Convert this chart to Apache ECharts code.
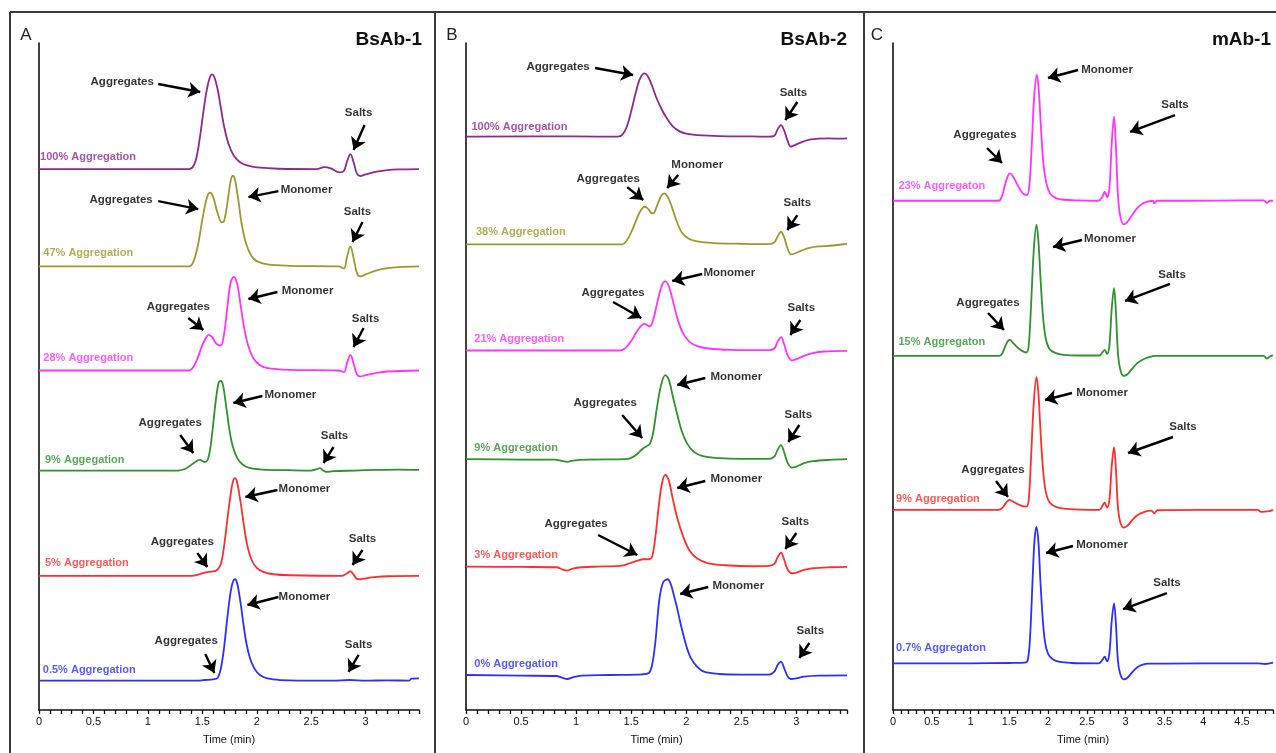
<!DOCTYPE html>
<html><head><meta charset="utf-8">
<script src="https://cdn.jsdelivr.net/npm/echarts/dist/echarts.min.js"></script>
<style>html,body{margin:0;padding:0;background:#fff}#c{width:1276px;height:753px}</style>
</head><body><div id="c"></div><script>
// ---------- Panel A : BsAb-1 ----------
const bsab1Names = ['100% Aggregation','47% Aggregation','28% Aggregation','9% Aggegation','5% Aggregation','0.5% Aggregation'];
const bsab1Offsets = [81.1, 66.5, 50.9, 35.9, 20.1, 4.4];
const bsab1_100 = [[0,0],[1.38,0],[1.42,0.5],[1.45,2.0],[1.48,5.0],[1.51,8.6],[1.54,11.8],[1.57,13.8],[1.59,14.2],[1.61,13.8],[1.64,12.0],[1.67,9.2],[1.70,6.4],[1.74,3.8],[1.79,2.0],[1.85,1.0],[1.92,0.5],[2.0,0.25],[2.2,0.05],[2.55,0],[2.62,0.3],[2.68,0.1],[2.76,-0.5],[2.80,-0.3],[2.83,1.2],[2.86,2.25],[2.89,1.0],[2.92,-0.7],[2.95,-1.05],[3.0,-0.8],[3.1,-0.4],[3.2,-0.15],[3.3,-0.05],[3.49,0]];
const bsab1_47 = [[0,0],[1.38,0],[1.42,0.8],[1.46,3.2],[1.50,7],[1.54,10.2],[1.57,11.05],[1.60,10.4],[1.64,8],[1.68,6.6],[1.70,6.8],[1.73,9.5],[1.76,12.8],[1.78,13.6],[1.80,13.0],[1.83,10],[1.86,6.5],[1.90,3.5],[1.95,1.6],[2.0,0.8],[2.1,0.3],[2.3,0.1],[2.75,0],[2.80,-0.3],[2.83,1.5],[2.86,3.0],[2.89,1.2],[2.92,-1.0],[2.95,-1.5],[3.0,-1.2],[3.1,-0.6],[3.2,-0.25],[3.3,-0.1],[3.49,0]];
const bsab1_28 = [[0,0],[1.38,0],[1.42,0.6],[1.46,2],[1.50,3.8],[1.54,5.1],[1.56,5.35],[1.59,5.0],[1.63,4.0],[1.67,3.75],[1.70,5.5],[1.73,9.5],[1.76,13.2],[1.79,14.05],[1.82,13.0],[1.85,10],[1.88,6.8],[1.92,3.8],[1.97,1.8],[2.03,0.8],[2.1,0.35],[2.3,0.1],[2.75,0],[2.80,-0.25],[2.83,1.2],[2.86,2.35],[2.89,1.0],[2.92,-0.6],[2.95,-0.9],[3.0,-0.7],[3.1,-0.35],[3.2,-0.15],[3.49,0]];
const bsab1_9 = [[0,0],[1.28,0],[1.35,0.3],[1.41,1.0],[1.46,1.55],[1.48,1.6],[1.51,1.35],[1.53,1.3],[1.56,2.2],[1.59,5.5],[1.62,10],[1.65,13.2],[1.67,13.45],[1.69,12.8],[1.72,9.5],[1.75,6],[1.78,3.6],[1.82,1.9],[1.87,0.9],[1.93,0.4],[2.05,0.15],[2.3,0.05],[2.5,0],[2.55,0.2],[2.58,0.36],[2.61,0],[2.64,-0.2],[2.70,-0.1],[2.9,0],[3.1,0.1],[3.3,0.15],[3.49,0.1]];
const bsab1_5 = [[0,0],[1.40,0],[1.47,0.25],[1.53,0.55],[1.58,0.65],[1.63,0.8],[1.67,1.8],[1.70,4.5],[1.73,8.5],[1.76,12.2],[1.78,14.1],[1.80,14.65],[1.82,14.0],[1.85,11.2],[1.88,7.8],[1.91,4.8],[1.95,2.5],[2.0,1.2],[2.06,0.6],[2.15,0.25],[2.3,0.1],[2.78,0],[2.82,0.3],[2.86,0.7],[2.89,0.2],[2.92,-0.45],[2.95,-0.5],[3.0,-0.35],[3.1,-0.15],[3.2,-0.05],[3.49,0]];
const bsab1_05 = [[0,0],[1.45,0],[1.52,0.1],[1.6,0.2],[1.64,0.4],[1.67,1.8],[1.70,5],[1.73,9.5],[1.76,13.3],[1.78,14.8],[1.80,15.2],[1.82,14.6],[1.85,11.8],[1.88,8.2],[1.91,5.2],[1.95,2.8],[2.0,1.3],[2.06,0.55],[2.15,0.2],[2.3,0.05],[2.7,0],[2.85,0.1],[3.0,0],[3.2,0.05],[3.4,0],[3.42,0.3],[3.49,0.35]];
const bsab1LabelPos = [[0.01,82.9],[0.04,68.47],[0.04,52.73],[0.055,37.48],[0.055,22.04],[0.035,6.0]];
const bsab1Notes = [['Aggregates',0.764,94.15],['Salts',2.935,89.5],['Aggregates',0.754,76.46],['Monomer',2.457,77.96],['Salts',2.925,74.66],['Aggregates',1.279,60.42],['Monomer',2.466,62.82],['Salts',2.999,58.62],['Aggregates',1.205,43.03],['Monomer',2.309,47.23],['Salts',2.714,41.08],['Aggregates',1.316,25.19],['Monomer',2.438,33.13],['Salts',2.971,25.64],['Aggregates',1.352,10.34],['Monomer',2.438,16.94],['Salts',2.935,9.75]];
const bsab1Arrows = [[1.095,93.85,1.481,92.65],[2.990,87.7,2.889,83.96],[1.095,76.3,1.463,75.1],[2.199,77.8,1.923,76.9],[2.971,73.16,2.880,70.16],[1.371,58.77,1.509,56.97],[2.190,62.67,1.923,61.62],[2.981,57.27,2.889,54.42],[1.297,41.23,1.417,38.53],[2.052,47.08,1.785,46.03],[2.705,39.43,2.613,37.03],[1.454,23.54,1.546,21.44],[2.190,32.98,1.895,31.93],[2.971,23.99,2.880,21.74],[1.527,8.40,1.610,5.55],[2.199,16.94,1.914,15.74],[2.935,8.25,2.843,5.70]];

// ---------- Panel B : BsAb-2 ----------
const bsab2Names = ['100% Aggregation','38% Aggregation','21% Aggregation','9% Aggregation','3% Aggregation','0% Aggregation'];
const bsab2Offsets = [85.95, 69.8, 53.9, 37.6, 21.5, 5.25];
const bsab2_100 = [[0,0],[1.0,0.05],[1.38,0],[1.42,0.3],[1.46,1.5],[1.50,3.8],[1.54,6.5],[1.58,8.7],[1.62,9.5],[1.65,9.1],[1.69,7.6],[1.73,5.8],[1.78,4.0],[1.83,2.6],[1.88,1.5],[1.94,0.8],[2.0,0.45],[2.1,0.25],[2.3,0.1],[2.6,0.05],[2.75,0],[2.80,0.15],[2.83,1.1],[2.86,1.75],[2.89,0.9],[2.92,-0.6],[2.95,-1.5],[2.98,-1.3],[3.05,-0.8],[3.12,-0.45],[3.2,-0.3],[3.3,-0.25],[3.4,-0.3],[3.46,-0.25]];
const bsab2_38 = [[0,0],[1.0,0],[1.42,0],[1.46,0.6],[1.50,1.8],[1.54,3.4],[1.58,4.9],[1.62,5.65],[1.65,5.4],[1.68,4.75],[1.70,4.65],[1.73,5.6],[1.77,7.2],[1.80,7.65],[1.83,7.2],[1.87,5.6],[1.91,3.6],[1.96,1.8],[2.02,0.9],[2.1,0.45],[2.25,0.2],[2.5,0.1],[2.75,0.05],[2.80,0.3],[2.83,1.2],[2.86,1.9],[2.89,1.0],[2.92,-0.6],[2.95,-1.5],[2.98,-1.4],[3.05,-0.9],[3.12,-0.5],[3.2,-0.3],[3.3,-0.2],[3.46,0.1]];
const bsab2_21 = [[0,0],[1.0,0],[1.40,0],[1.45,0.4],[1.50,1.4],[1.55,2.8],[1.59,3.7],[1.62,4.0],[1.65,3.75],[1.67,3.6],[1.70,4.6],[1.74,7.4],[1.78,9.8],[1.81,10.35],[1.84,9.7],[1.88,7.4],[1.92,4.8],[1.97,2.6],[2.03,1.3],[2.1,0.65],[2.2,0.3],[2.4,0.1],[2.75,0.05],[2.80,0.3],[2.83,1.3],[2.86,2.0],[2.89,0.9],[2.92,-0.7],[2.96,-1.5],[3.0,-1.3],[3.07,-0.8],[3.15,-0.4],[3.25,-0.15],[3.46,-0.05]];
const bsab2_9 = [[0,0],[0.5,-0.05],[0.80,-0.05],[0.88,-0.3],[0.92,-0.4],[0.97,-0.2],[1.1,-0.05],[1.45,0],[1.50,0.2],[1.55,0.7],[1.60,1.5],[1.64,1.95],[1.67,2.3],[1.70,4.0],[1.73,7.3],[1.77,11.0],[1.81,12.6],[1.84,12.0],[1.88,9.3],[1.92,6.6],[1.96,4.2],[2.01,2.3],[2.07,1.1],[2.15,0.45],[2.3,0.15],[2.5,0.05],[2.75,0.05],[2.80,0.4],[2.83,1.4],[2.86,2.1],[2.89,1.0],[2.92,-0.5],[2.96,-1.25],[3.0,-1.1],[3.07,-0.6],[3.15,-0.3],[3.3,-0.1],[3.46,0]];
const bsab2_3 = [[0,0],[0.5,-0.05],[0.82,-0.1],[0.88,-0.45],[0.92,-0.6],[0.97,-0.3],[1.05,-0.1],[1.2,0],[1.40,0.1],[1.49,0.5],[1.56,0.9],[1.61,1.1],[1.66,1.1],[1.69,1.5],[1.72,4.5],[1.75,9.0],[1.78,12.5],[1.81,13.75],[1.84,13.0],[1.88,10.0],[1.92,7.2],[1.97,4.6],[2.03,2.4],[2.1,1.2],[2.2,0.5],[2.35,0.2],[2.6,0.05],[2.75,0.1],[2.80,0.4],[2.83,1.4],[2.86,2.1],[2.89,1.0],[2.92,-0.4],[2.96,-1.0],[3.0,-0.9],[3.07,-0.5],[3.15,-0.25],[3.3,-0.1],[3.46,-0.05]];
const bsab2_0 = [[0,0],[0.5,-0.1],[0.82,-0.15],[0.88,-0.45],[0.92,-0.6],[0.97,-0.35],[1.05,-0.1],[1.3,0],[1.6,0.1],[1.66,0.3],[1.69,1.5],[1.72,5.0],[1.755,11.2],[1.79,13.9],[1.83,14.35],[1.86,13.6],[1.89,11.8],[1.915,10.2],[1.95,7.6],[2.0,4.4],[2.04,2.6],[2.1,1.2],[2.16,0.5],[2.3,0.15],[2.5,0.05],[2.75,0.05],[2.80,0.5],[2.83,1.5],[2.86,2.0],[2.89,1.0],[2.92,-0.2],[2.95,-0.6],[3.0,-0.5],[3.07,-0.25],[3.2,-0.1],[3.46,-0.05]];
const bsab2LabelPos = [[0.05,87.4],[0.09,71.7],[0.075,55.58],[0.075,39.24],[0.075,23.24],[0.075,6.9]];
const bsab2Notes = [['Aggregates',0.836,96.4],['Salts',2.973,92.5],['Aggregates',1.291,79.6],['Monomer',2.1,81.7],['Salts',3.009,76.0],['Aggregates',1.336,62.5],['Monomer',2.391,65.5],['Salts',3.045,60.27],['Aggregates',1.264,46.03],['Monomer',2.455,49.93],['Salts',3.018,44.23],['Aggregates',1.0,27.89],['Monomer',2.455,34.63],['Salts',2.991,28.19],['Monomer',2.473,18.59],['Salts',3.127,11.84]];
const bsab2Arrows = [[1.173,96.25,1.518,95.2],[3.009,91.15,2.9,88.46],[1.464,78.4,1.609,76.46],[1.927,80.2,1.827,78.26],[3.009,74.2,2.918,71.96],[1.336,61.17,1.591,58.77],[2.145,65.37,1.873,64.32],[3.036,58.47,2.945,56.22],[1.418,44.23,1.6,40.78],[2.173,49.78,1.918,48.73],[3.027,42.73,2.927,40.18],[1.2,26.24,1.555,23.24],[2.173,34.33,1.918,33.28],[3.0,26.54,2.9,24.14],[2.2,18.44,1.945,17.39],[3.118,10.04,3.027,7.80]];

// ---------- Panel C : mAb-1 ----------
const mab1Names = ['23% Aggregaton','15% Aggregaton','9% Aggregation','0.7% Aggregaton'];
const mab1Offsets = [76.35, 53.1, 30.0, 7.0];
const mab1_23 = [[0,0],[1.0,0],[1.36,0],[1.40,0.5],[1.44,2.2],[1.48,3.7],[1.51,4.1],[1.55,3.6],[1.60,2.5],[1.65,1.5],[1.70,0.9],[1.73,0.9],[1.76,2.5],[1.79,8.5],[1.82,15.5],[1.855,18.85],[1.88,16.5],[1.91,10.5],[1.94,5.5],[1.98,2.5],[2.03,1.0],[2.1,0.4],[2.2,0.15],[2.4,0.05],[2.65,0],[2.70,0.6],[2.73,1.35],[2.76,0.5],[2.79,1.8],[2.82,8.5],[2.85,12.6],[2.875,8.0],[2.90,1.0],[2.93,-2.3],[2.975,-3.55],[3.02,-3.2],[3.08,-2.2],[3.15,-1.1],[3.22,-0.4],[3.31,-0.05],[3.35,0],[3.37,-0.4],[3.40,0],[3.8,0],[4.5,0.05],[4.78,0.05],[4.82,-0.3],[4.86,0],[4.9,0]];
const mab1_15 = [[0,0],[1.0,0],[1.37,0],[1.41,0.4],[1.45,1.5],[1.49,2.35],[1.51,2.4],[1.55,1.9],[1.61,1.2],[1.67,0.7],[1.72,0.5],[1.75,1.6],[1.78,7.5],[1.815,15.8],[1.85,19.65],[1.875,17.2],[1.905,11],[1.935,5.8],[1.97,2.6],[2.02,1.0],[2.1,0.4],[2.2,0.15],[2.4,0.05],[2.66,0.05],[2.70,0.5],[2.73,0.9],[2.76,0.3],[2.79,1.5],[2.82,7.0],[2.85,10.15],[2.875,6.5],[2.90,0.5],[2.93,-2.0],[2.975,-3.0],[3.02,-2.8],[3.08,-2.0],[3.15,-1.1],[3.25,-0.4],[3.35,-0.05],[3.38,0],[4.0,0],[4.78,0],[4.82,-0.4],[4.86,-0.1],[4.9,0.05]];
const mab1_9 = [[0,0],[1.0,0],[1.36,0],[1.41,0.3],[1.46,1.1],[1.50,1.5],[1.54,1.3],[1.60,0.9],[1.66,0.6],[1.72,0.5],[1.75,1.5],[1.78,7.8],[1.815,16.0],[1.85,19.9],[1.875,17.5],[1.905,11.2],[1.935,6.0],[1.97,2.7],[2.02,1.1],[2.1,0.45],[2.2,0.2],[2.4,0.05],[2.66,0],[2.70,0.6],[2.73,1.1],[2.76,0.35],[2.79,1.5],[2.82,6.5],[2.85,9.4],[2.875,6.0],[2.90,0.5],[2.93,-1.8],[2.975,-2.65],[3.02,-2.4],[3.08,-1.6],[3.15,-0.8],[3.25,-0.25],[3.33,-0.1],[3.37,-0.5],[3.41,-0.05],[4.0,0],[4.7,0],[4.75,-0.3],[4.85,-0.2],[4.9,0]];
const mab1_07 = [[0,0],[1.0,0],[1.5,0.05],[1.70,0.1],[1.74,0.6],[1.77,4.5],[1.80,12.5],[1.825,18.5],[1.85,20.45],[1.875,18.2],[1.90,12.5],[1.93,6.8],[1.96,3.2],[2.0,1.4],[2.06,0.6],[2.15,0.2],[2.3,0.05],[2.65,0],[2.70,0.5],[2.73,1.0],[2.76,0.3],[2.79,1.5],[2.82,6.3],[2.85,9.0],[2.875,5.8],[2.90,0.4],[2.93,-1.6],[2.975,-2.4],[3.02,-2.2],[3.08,-1.4],[3.15,-0.6],[3.22,-0.2],[3.3,-0.05],[4.0,0],[4.7,0],[4.8,-0.1],[4.9,0.1]];
const mab1LabelPos = [[0.07,78.6],[0.07,55.2],[0.04,31.6],[0.04,9.25]];
const mab1Notes = [['Aggregates',1.186,86.21],['Monomer',2.76,95.95],['Salts',3.636,90.7],['Aggregates',1.225,61.02],['Monomer',2.798,70.61],['Salts',3.598,65.22],['Aggregates',1.289,35.98],['Monomer',2.695,47.53],['Salts',3.739,42.43],['Monomer',2.695,24.74],['Salts',3.533,19.04]];
const mab1Arrows = [[1.212,84.26,1.406,82.01],[2.386,95.95,1.999,94.75],[3.636,89.2,3.056,86.66],[1.225,59.52,1.431,56.97],[2.437,70.46,2.063,69.42],[3.572,63.87,2.992,61.32],[1.328,34.33,1.483,31.93],[2.308,47.53,1.96,46.48],[3.61,40.93,3.03,38.53],[2.321,24.59,1.973,23.54],[3.533,17.54,2.966,15.14]];

const panelTitles = ['BsAb-1','BsAb-2','mAb-1'];
const panelLetters = ['A','B','C'];
const xMax = [3.49, 3.46, 4.9];

// ---------- styles ----------
const colorsA = ['#8E2A8C','#9B9A2F','#FF33FF','#2E922E','#FF2E2E','#2E2EFF'];
const colorsB = ['#8E2A8C','#9B9A2F','#FF33FF','#2E922E','#FF2E2E','#2E2EFF'];
const colorsC = ['#FF33FF','#2E922E','#FF2E2E','#2E2EFF'];
const FONT = 'Liberation Sans, Arial, sans-serif';
const grids = [
  {left:39, top:43, width:380, height:667},
  {left:466, top:43, width:381, height:667},
  {left:893, top:43, width:380, height:667}
];

const panels = [
  {traces:[bsab1_100,bsab1_47,bsab1_28,bsab1_9,bsab1_5,bsab1_05], offsets:bsab1Offsets, names:bsab1Names, pos:bsab1LabelPos, notes:bsab1Notes, arrows:bsab1Arrows, colors:colorsA},
  {traces:[bsab2_100,bsab2_38,bsab2_21,bsab2_9,bsab2_3,bsab2_0], offsets:bsab2Offsets, names:bsab2Names, pos:bsab2LabelPos, notes:bsab2Notes, arrows:bsab2Arrows, colors:colorsB},
  {traces:[mab1_23,mab1_15,mab1_9,mab1_07], offsets:mab1Offsets, names:mab1Names, pos:mab1LabelPos, notes:mab1Notes, arrows:mab1Arrows, colors:colorsC}
];

const xAxes = [], yAxes = [], series = [];
panels.forEach((p, g) => {
  xAxes.push({
    gridIndex:g, type:'value', min:0, max:xMax[g], interval:0.5,
    name:'Time (min)', nameLocation:'middle', nameGap:24,
    nameTextStyle:{fontFamily:FONT, fontSize:11, color:'#111'},
    axisLine:{show:true, lineStyle:{color:'#111', width:1.6}},
    axisTick:{show:true, length:4, lineStyle:{color:'#111', width:1.3}},
    minorTick:{show:true, splitNumber:5, length:4, lineStyle:{color:'#111', width:1.3}},
    axisLabel:{fontFamily:FONT, fontSize:11, color:'#111', margin:6, showMaxLabel:false},
    splitLine:{show:false}, minorSplitLine:{show:false}
  });
  yAxes.push({
    gridIndex:g, type:'value', min:0, max:100,
    axisLine:{show:true, onZero:false, lineStyle:{color:'#111', width:1.6}},
    axisTick:{show:false}, axisLabel:{show:false}, splitLine:{show:false}
  });
  p.traces.forEach((tr, i) => {
    series.push({
      type:'line', xAxisIndex:g, yAxisIndex:g, showSymbol:false, smooth:0.35,
      data: tr.map(d => [d[0], p.offsets[i] + d[1]]),
      lineStyle:{color:p.colors[i], width:1.8}, silent:true
    });
  });
  series.push({
    type:'scatter', xAxisIndex:g, yAxisIndex:g, symbolSize:0, silent:true,
    data: p.pos.map((q, i) => ({name:p.names[i], value:q,
      label:{show:true, position:'right', distance:0, formatter:'{b}', color:p.colors[i],
             fontFamily:FONT, fontWeight:'bold', fontSize:11}}))
  });
  series.push({
    type:'scatter', xAxisIndex:g, yAxisIndex:g, symbolSize:0, silent:true,
    data: p.notes.map(n => ({name:n[0], value:[n[1], n[2]],
      label:{show:true, position:'inside', formatter:'{b}', color:'#000',
             fontFamily:FONT, fontWeight:'bold', fontSize:11.5}}))
  });
  series.push({
    type:'lines', coordinateSystem:'cartesian2d', xAxisIndex:g, yAxisIndex:g, silent:true,
    symbol:['none','arrow'], symbolSize:12,
    lineStyle:{color:'#000', width:2.4, opacity:1, curveness:0},
    data: p.arrows.map(a => ({coords:[[a[0],a[1]],[a[2],a[3]]]}))
  });
});

const frame = {color:'#3a3a3a', width:2};
const graphic = [
  {type:'line', shape:{x1:10, y1:12, x2:1276, y2:12}, style:{stroke:frame.color, lineWidth:frame.width}},
  {type:'line', shape:{x1:10, y1:12, x2:10, y2:753}, style:{stroke:frame.color, lineWidth:frame.width}},
  {type:'line', shape:{x1:435, y1:12, x2:435, y2:753}, style:{stroke:frame.color, lineWidth:frame.width}},
  {type:'line', shape:{x1:864, y1:12, x2:864, y2:753}, style:{stroke:frame.color, lineWidth:frame.width}}
];
const letterX = [26, 452, 877];
const titleRight = [422, 847, 1271];
panelLetters.forEach((L, i) => {
  graphic.push({type:'text', x:letterX[i], y:35, style:{text:L, fill:'#222', font:'17px ' + FONT, textAlign:'center', textVerticalAlign:'middle'}});
  graphic.push({type:'text', x:titleRight[i], y:40, style:{text:panelTitles[i], fill:'#111', font:'bold 19px ' + FONT, textAlign:'right', textVerticalAlign:'middle'}});
});

const chart = echarts.init(document.getElementById('c'), null, {renderer:'canvas'});
chart.setOption({
  animation:false, backgroundColor:'#fff',
  grid:grids, xAxis:xAxes, yAxis:yAxes, series:series, graphic:graphic
});
</script></body></html>
